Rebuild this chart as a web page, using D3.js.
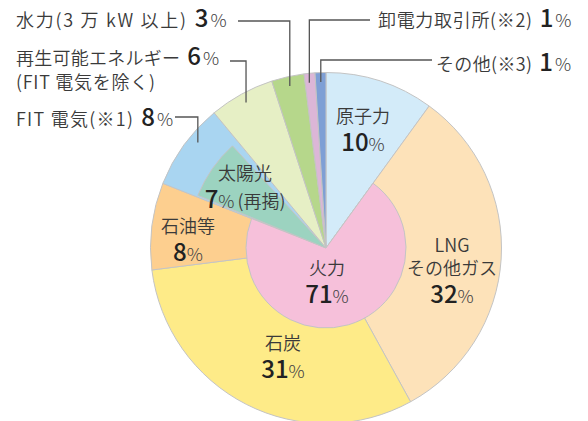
<!DOCTYPE html>
<html>
<head>
<meta charset="utf-8">
<script src="https://cdn.jsdelivr.net/npm/d3@7"></script>
<style>
  body { margin: 0; background: #fff; }
  svg text { font-family: "Noto Sans CJK JP", "Noto Sans", sans-serif; fill: #3a3a3a; font-weight: 350; }
  .num { font-size: 24px; font-weight: 500; fill: #222; }
  .pct { font-size: 18px; font-weight: 300; fill: #444; }
</style>
</head>
<body>
<svg id="chart"></svg>
<script>
// power source mix (%), clockwise from 12 o'clock
const sources = ["原子力", "LNG その他ガス", "石炭", "石油等", "FIT 電気", "再生可能エネルギー", "水力", "卸電力取引所", "その他"];
const shares = [10, 32, 31, 8, 8, 6, 3, 1, 1];
const sliceColors = ["#d3ebf9", "#fde2b9", "#feeb88", "#fdcf8f", "#a9d5f1", "#e6efc5", "#b6d78b", "#dcb6d7", "#7e9fd5"];

const thermalShare = 71;   // LNG + 石炭 + 石油等
const solarShare = 7;      // 太陽光 (included in FIT)

const width = 588, height = 421;
const cx = 326, cy = 248;
const R = 175.5, rSolar = 138.5, rThermal = 80;

const svg = d3.select('#chart').attr('width', width).attr('height', height);
const g = svg.append('g').attr('transform', `translate(${cx},${cy})`);

const pie = d3.pie().sort(null).value(d => d);
const arcs = pie(shares);
const arc = d3.arc().innerRadius(0).outerRadius(R);

g.selectAll('.slice')
    .data(arcs)
    .join('path')
    .attr('class', 'slice')
    .attr('d', arc)
    .attr('fill', (d, i) => sliceColors[i])
    .attr('stroke', '#c4c4c4')
    .attr('stroke-width', 1);

// 火力 inner sector over LNG / coal / oil
const thermalArc = {startAngle: arcs[1].startAngle, endAngle: arcs[3].endAngle};
g.append('path')
    .attr('d', d3.arc().innerRadius(0).outerRadius(rThermal)(thermalArc))
    .attr('fill', '#f6c0da')
    .attr('stroke', '#c4c4c4');

// 太陽光 wedge inside FIT
const solarStart = arcs[4].startAngle + 0.002 * 2 * Math.PI;
const solarArc = {startAngle: solarStart, endAngle: solarStart + solarShare / 100 * 2 * Math.PI};
g.append('path')
    .attr('d', d3.arc().innerRadius(0).outerRadius(rSolar)(solarArc))
    .attr('fill', '#9cd3c0')
    .attr('stroke', '#c4c4c4');

// inside labels
function label(x, y, lines, num, extra) {
  const t = g.append('text').attr('text-anchor', 'middle');
  lines.forEach((s, k) => {
    t.append('tspan').attr('x', x).attr('y', y + k * 23).attr('font-size', 18).text(s);
  });
  const n = t.append('tspan').attr('x', x).attr('y', y + (lines.length - 1) * 23 + 28);
  n.append('tspan').attr('class', 'num').text(num);
  n.append('tspan').attr('class', 'pct').text('%');
  if (extra) n.append('tspan').attr('font-size', 18).attr('dx', 3).text(extra);
}

label(37, -125, ["原子力"], shares[0]);
label(126, 4, ["LNG", "その他ガス"], shares[1]);
label(-43, 102, ["石炭"], shares[2]);
label(-138, -15, ["石油等"], shares[3]);
label(-81, -68, ["太陽光"], solarShare, "(再掲)");
label(1, 27, ["火力"], thermalShare);

// outside labels with leader lines
const outside = [
  {i: 6, text: "水力(3 万 kW 以上)", sub: null, tx: 16, len: 170, ty: 27, ly: 21, lx: 238, at: 0.5},
  {i: 5, text: "再生可能エネルギー", sub: "(FIT 電気を除く)", tx: 16, len: 164, ty: 65, ly: 61, lx: 230, at: 0.5},
  {i: 4, text: "FIT 電気(※1)", sub: null, tx: 16, len: 117, ty: 126, ly: 117, lx: 175, at: 0.62},
  {i: 7, text: "卸電力取引所(※2)", sub: null, tx: 378, len: 154, ty: 27, ly: 20, lx: 370, at: 0.4},
  {i: 8, text: "その他(※3)", sub: null, tx: 436, len: 96, ty: 71, ly: 60, lx: 432, at: 0.5}
];

outside.forEach(o => {
  const a = arcs[o.i];
  const ang = a.startAngle + (a.endAngle - a.startAngle) * o.at;
  const ax = cx + 166 * Math.sin(ang), ay = cy - 166 * Math.cos(ang);
  svg.append('path')
      .attr('d', `M${ax},${ay}V${o.ly}H${o.lx}`)
      .attr('fill', 'none')
      .attr('stroke', '#555')
      .attr('stroke-width', 1.3);
  const t = svg.append('text').attr('x', o.tx).attr('y', o.ty);
  t.append('tspan').attr('font-size', 18)
      .attr('textLength', o.len).attr('lengthAdjust', 'spacing').text(o.text);
  t.append('tspan').attr('class', 'num').attr('dx', 7).text(shares[o.i]);
  t.append('tspan').attr('class', 'pct').attr('dx', 2).text('%');
  if (o.sub) {
    svg.append('text').attr('x', o.tx).attr('y', o.ty + 24).attr('font-size', 18)
        .attr('textLength', 139).attr('lengthAdjust', 'spacing').text(o.sub);
  }
});
</script>
</body>
</html>
